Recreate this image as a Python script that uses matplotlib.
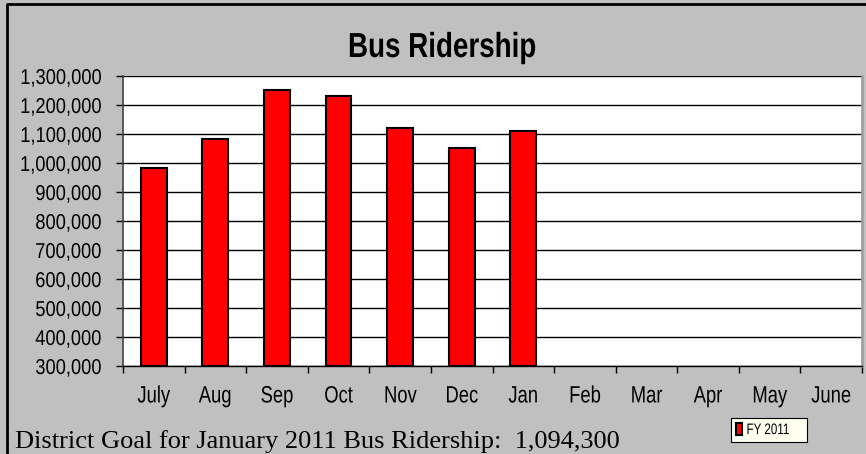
import numpy as np
import matplotlib.pyplot as plt
from matplotlib.patches import Patch
from matplotlib.lines import Line2D
from matplotlib.patheffects import AbstractPathEffect
from matplotlib.transforms import Affine2D
from matplotlib.ticker import FuncFormatter, FixedLocator

months = ["July", "Aug", "Sep", "Oct", "Nov", "Dec", "Jan", "Feb", "Mar", "Apr", "May", "June"]
fy2011 = [984000, 1083000, 1252000, 1232000, 1120000, 1053000, 1110000]
goal_text = "District Goal for January 2011 Bus Ridership:  1,094,300"


# the source picture was squashed sideways, so squeeze the glyphs the same way
class Squeeze(AbstractPathEffect):
    def __init__(self, sx=0.78, anchor="center"):
        super().__init__()
        self.sx = sx
        self.anchor = anchor

    def draw_path(self, renderer, gc, tpath, affine, rgbFace=None):
        bb = tpath.get_extents(affine)
        x0 = {"left": bb.x0, "center": (bb.x0 + bb.x1) / 2, "right": bb.x1}[self.anchor]
        t = affine + Affine2D().translate(-x0, 0).scale(self.sx, 1).translate(x0, 0)
        renderer.draw_path(gc, tpath, t, rgbFace)


plt.rcParams["font.family"] = ["Liberation Sans", "DejaVu Sans"]

fig = plt.figure(figsize=(8.66, 4.54), dpi=100)
fig.patch.set_facecolor("#c0c0c0")
# outer chart border (only left and top show in the crop)
fig.add_artist(Line2D([7 / 866, 7 / 866, 1], [0, 1 - 4 / 454, 1 - 4 / 454],
                      transform=fig.transFigure, color="black", linewidth=2))

ax = fig.add_axes([123 / 866, 88 / 454, 739 / 866, 290 / 454])
ax.set_facecolor("white")

x = np.arange(len(fy2011))
ax.bar(x, np.array(fy2011) - 300000, bottom=300000, width=0.42,
       color="#ff0000", edgecolor="black", linewidth=1.5, zorder=3)

ax.set_xlim(-0.5, len(months) - 0.5)
ax.set_ylim(300000, 1300000)
ax.set_yticks(np.arange(300000, 1300001, 100000))
ax.yaxis.set_major_formatter(FuncFormatter(lambda v, p: f"{int(v):,}"))
ax.grid(axis="y", color="black", linewidth=1, zorder=1)

ax.set_xticks(np.arange(len(months)))
ax.set_xticklabels(months)
ax.xaxis.set_minor_locator(FixedLocator(np.arange(-0.5, len(months), 1)))
ax.tick_params(axis="x", which="major", length=0, pad=14, labelsize=17)
ax.tick_params(axis="x", which="minor", length=5, direction="out", width=1)
ax.tick_params(axis="y", length=5, direction="out", width=1, pad=10, labelsize=15.5)

for lab in ax.get_xticklabels():
    lab.set_path_effects([Squeeze(0.78, "center")])
for lab in ax.get_yticklabels():
    lab.set_path_effects([Squeeze(0.85, "right")])

ax.spines["top"].set_visible(False)
ax.spines["right"].set_color("#a0a0a0")
ax.spines["right"].set_linewidth(2)
ax.spines["left"].set_color("#404040")
ax.spines["left"].set_linewidth(1.2)
ax.spines["bottom"].set_linewidth(1)

fig.text(442 / 866, 1 - 57 / 454, "Bus Ridership", ha="center", va="baseline",
         fontsize=25, fontweight="bold", path_effects=[Squeeze(0.80, "center")])

fig.text(15 / 866, 1 - 448 / 454, goal_text, ha="left", va="baseline",
         fontsize=19, family=["Liberation Serif", "DejaVu Serif"])

handle = Patch(facecolor="#ff0000", edgecolor="black", linewidth=1.5)
leg = fig.legend([handle], ["FY 2011"], loc="center", bbox_to_anchor=(769 / 866, 1 - 430 / 454),
                 fontsize=11, frameon=True, fancybox=False, handlelength=0.45,
                 handleheight=0.8, handletextpad=0.25, borderpad=0.3, borderaxespad=0)
leg.get_frame().set_facecolor("#fffff0")
leg.get_frame().set_edgecolor("black")
leg.get_frame().set_linewidth(0.8)
leg.get_frame().set_alpha(1)
for t in leg.get_texts():
    t.set_path_effects([Squeeze(0.76, "left")])

fig.savefig("out.png", dpi=100, facecolor=fig.get_facecolor())
